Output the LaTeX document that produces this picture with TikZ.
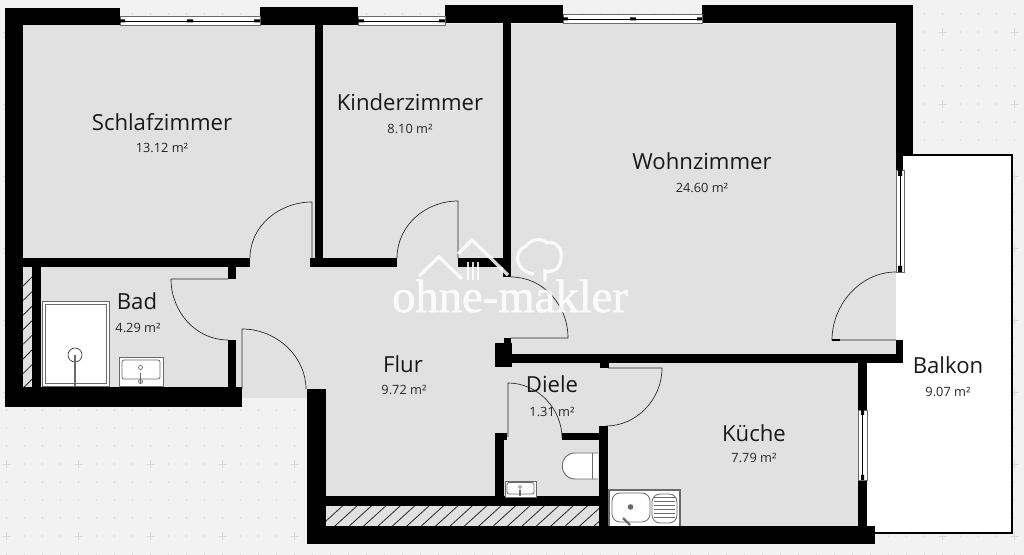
\documentclass[tikz,border=0pt]{standalone}
\usepackage{fontspec}
\setmainfont{Open Sans}
\newfontfamily\markfont[FakeBold=1.2]{Liberation Serif}
\definecolor{paper}{HTML}{F2F2F2}
\definecolor{floorgray}{HTML}{E1E1E1}
\definecolor{griddot}{HTML}{D9DAE2}
\definecolor{fixture}{HTML}{6A6A6A}
\tikzset{
  wall/.style={fill=black},
  doorline/.style={draw=black!85,line width=.5pt},
  pane/.style={fill=white,draw=fixture,line width=.4pt},
  hatchline/.style={draw=black!85,line width=.6pt},
  fixturebox/.style={fill=white,draw=fixture,line width=.7pt},
  roomname/.style={anchor=base,inner sep=0pt,text=black!90,font=\fontsize{16.6}{18}\selectfont},
  roomarea/.style={anchor=base,inner sep=0pt,text=black!85,font=\fontsize{9.6}{11}\selectfont},
  watermark/.style={draw=white,opacity=.85,line width=2.4pt}
}
\begin{document}
\begin{tikzpicture}[x=.75pt,y=-.75pt]
  \fill[paper] (0,0) rectangle (1024,555);
  \useasboundingbox (0,0) rectangle (1024,555);
  % raster of the sheet
  \foreach \i in {0,...,56} \foreach \j in {0,...,30}
    \fill[griddot] ({6.5+18*\i},{14+18*\j}) circle (.8);
  \foreach \i in {0,...,14} \foreach \j in {0,...,7}
    \draw[griddot,line width=.5pt] ({2.5+72*\i},{32+72*\j}) -- ({10.5+72*\i},{32+72*\j})
      ({6.5+72*\i},{28+72*\j}) -- ({6.5+72*\i},{36+72*\j});
  % floor and balcony
  \fill[floorgray] (23,24) -- (896,24) -- (896,360) -- (858,360) -- (858,527) -- (307,527)
    -- (307,398) -- (242,398) -- (242,387) -- (23,387) -- cycle;
  \fill[white] (896,155) -- (1012,155) -- (1012,533) -- (867,533) -- (867,354) -- (896,354) -- cycle;
  \draw[black,line width=1.5pt] (903,155) -- (1012,155) -- (1012,533) -- (875,533);
  % hatched shafts
  \begin{scope}
    \clip (23,267) rectangle (32,387);
    \foreach \k in {0,...,9}
      \draw[hatchline] (23,{286+14.6*\k}) -- (32,{277+14.6*\k});
  \end{scope}
  \begin{scope}
    \clip (326,506) rectangle (599,526);
    \foreach \k in {0,...,20}
      \draw[hatchline] ({320.5+14.4*\k},526) -- ({342.5+14.4*\k},506);
  \end{scope}
  % walls
  \fill[wall] (5,8) rectangle (120,25);
  \fill[wall] (260,7) rectangle (358,25);
  \fill[wall] (445,5) rectangle (563,23);
  \fill[wall] (702,5) rectangle (913,23);
  \fill[wall] (5,8) rectangle (23,407);
  \fill[wall] (896,5) rectangle (913,154);
  \fill[wall] (896,154) rectangle (903,170);
  \fill[wall] (315,25) rectangle (323,267);
  \fill[wall] (503,23) rectangle (511,277);
  \fill[wall] (23,258) rectangle (250,267);
  \fill[wall] (310,258) rectangle (397,267);
  \fill[wall] (458,258) rectangle (511,267);
  \fill[wall] (32,267) rectangle (41,387);
  \fill[wall] (228,267) rectangle (236,279);
  \fill[wall] (228,340) rectangle (236,387);
  \fill[wall] (5,387) rectangle (242,407);
  \fill[wall] (307,389) rectangle (326,544);
  \fill[wall] (326,496) rectangle (608,506);
  \fill[wall] (307,526) rectangle (875,544);
  \fill[wall] (599,426) rectangle (608,527);
  \fill[wall] (562,433) rectangle (600,440);
  \fill[wall] (495,433) rectangle (504,496);
  \fill[wall] (495,433) rectangle (507,440);
  \fill[wall] (495,343) rectangle (512,367);
  \fill[wall] (504,338) rectangle (511,343);
  \fill[wall] (511,354) rectangle (903,363);
  \fill[wall] (896,340) rectangle (903,354);
  \fill[wall] (600,363) rectangle (609,368);
  \fill[wall] (858,363) rectangle (867,410);
  \fill[wall] (858,480) rectangle (867,527);
  % windows
  \draw[pane] (120,16) rectangle (260,25);
  \draw[black,line width=.7pt] (120,21) -- (260,21);
  \fill[wall] (120,19.5) rectangle (125,22.5) (187,19.5) rectangle (193,22.5) (254,19.5) rectangle (260,22.5);
  \draw[pane] (358,16) rectangle (445,25);
  \draw[black,line width=.7pt] (358,21) -- (445,21);
  \fill[wall] (358,19.5) rectangle (364,22.5) (439,19.5) rectangle (445,22.5);
  \draw[pane] (563,14) rectangle (702,23);
  \draw[black,line width=.7pt] (563,19) -- (702,19);
  \fill[wall] (563,17.5) rectangle (568,20.5) (630,17.5) rectangle (636,20.5) (697,17.5) rectangle (702,20.5);
  \draw[pane] (896,170) rectangle (904,272);
  \draw[black,line width=.7pt] (900,170) -- (900,272);
  \fill[wall] (898,170) rectangle (902,176) (898,266) rectangle (902,272);
  \draw[pane] (858,410) rectangle (867,480);
  \draw[black,line width=.7pt] (862.5,410) -- (862.5,480);
  \fill[wall] (861,410) rectangle (864,415) (861,475) rectangle (864,480);
  % doors
  \draw[doorline] (312,258) -- (312,202) .. controls (279,202) and (250,226) .. (250,258);
  \draw[doorline] (458,258) -- (458,201) .. controls (425,201) and (397,226) .. (397,258);
  \draw[doorline] (511,338) -- (568,338) .. controls (568,305) and (543,277) .. (511,277);
  \draw[doorline] (228,279) -- (171,279) .. controls (171,312) and (196,340) .. (228,340);
  \draw[doorline] (242,389) -- (242,329) .. controls (277,329) and (306,357) .. (306,389);
  \draw[doorline] (508,437) -- (508,383) .. controls (538,383) and (562,409) .. (562,438);
  \draw[doorline] (608,368) -- (662,368) .. controls (662,400) and (636,426) .. (606,426);
  \draw[doorline] (896,340) -- (832,340) .. controls (832,305) and (860,272) .. (896,272);
  \fill[wall] (832,339.3) rectangle (840,341);
  % shower
  \draw[fixturebox] (42,301) rectangle (109,386);
  \draw[fixture,line width=.5pt] (45,304) rectangle (106,383);
  \draw[black!80,line width=.5pt] (75,355) circle (7);
  \draw[fixture,line width=1.3pt] (75,355) -- (75,386);
  % washbasins
  \draw[fixturebox] (119,357) rectangle (163,386);
  \draw[fixture,line width=.6pt,rounded corners=1.5pt] (122,360) rectangle (160,379);
  \draw[fixture,fill=white,line width=.5pt] (140.5,367.5) circle (2);
  \draw[fixture,fill=white,line width=.6pt] (140.5,373) -- (140.5,384) (140.5,381.5) circle (2);
  \draw[fixturebox] (505,481) rectangle (536,497);
  \draw[fixture,line width=.6pt,rounded corners=1.5pt] (507,482.5) rectangle (534,494);
  \draw[fixture,fill=white,line width=.4pt] (520,487) circle (1.5);
  \draw[fixture,line width=.8pt] (520,490) -- (520,496);
  % toilet
  \draw[fixturebox] (598,453) -- (575,453) .. controls (558,453) and (558,479) .. (575,479) -- (598,479);
  \draw[fixture,line width=.6pt] (592,453) -- (592,479);
  % kitchen sink
  \fill[white] (609,490) rectangle (680,526);
  \draw[fixture,line width=.8pt] (609,526) -- (609,490) -- (680,490) -- (680,526);
  \draw[fixture,line width=.6pt,rounded corners=6pt] (612,493) rectangle (650,522);
  \fill[fixture] (630.5,507) circle (2.8);
  \draw[fixture,line width=1.6pt] (623,518) -- (630,525);
  \draw[fixture,line width=.6pt,rounded corners=6pt] (652,494) rectangle (677,523);
  \foreach \k in {0,...,5}
    \draw[fixture,line width=.8pt] (654,{497.5+4*\k}) -- (675,{497.5+4*\k});
  % room labels
  \node[roomname] (schlaf) at (162,131) {Schlafzimmer};
  \node[roomarea] (schlafarea) at (162,153) {13.12 m²};
  \node[roomname] (kinder) at (410,111) {Kinderzimmer};
  \node[roomarea] (kinderarea) at (410,134) {8.10 m²};
  \node[roomname] (wohn) at (702,170) {Wohnzimmer};
  \node[roomarea] (wohnarea) at (702,193) {24.60 m²};
  \node[roomname] (bad) at (137,310) {Bad};
  \node[roomarea] (badarea) at (138,333) {4.29 m²};
  \node[roomname] (flur) at (403,373) {Flur};
  \node[roomarea] (flurarea) at (404,395) {9.72 m²};
  \node[roomname] (diele) at (552,393) {Diele};
  \node[roomarea] (dielearea) at (552,417) {1.31 m²};
  \node[roomname] (kueche) at (754,441) {Küche};
  \node[roomarea] (kuechearea) at (754,463) {7.79 m²};
  \node[roomname] (balkon) at (948,374) {Balkon};
  \node[roomarea] (balkonarea) at (948,397) {9.07 m²};
  % watermark
  \draw[watermark] (419,276) -- (439,257) -- (462,279);
  \draw[watermark] (458,254) -- (472,240) -- (508,275);
  \draw[watermark,line width=1.6pt] (468,262) -- (468,280) (473,262) -- (473,280) (478,262) -- (478,280);
  \draw[watermark] (534,274) .. controls (516,272) and (512,252) .. (526,246)
    .. controls (532,238) and (542,238) .. (547,243) .. controls (556,240) and (563,250) .. (561,258)
    .. controls (561,268) and (553,273) .. (545,271) -- (545,282);
  \node[anchor=base,inner sep=0pt,text=white,text opacity=.85,font=\markfont\fontsize{35}{38}\selectfont] (makler) at (510,312) {ohne-makler};
\end{tikzpicture}
\end{document}
